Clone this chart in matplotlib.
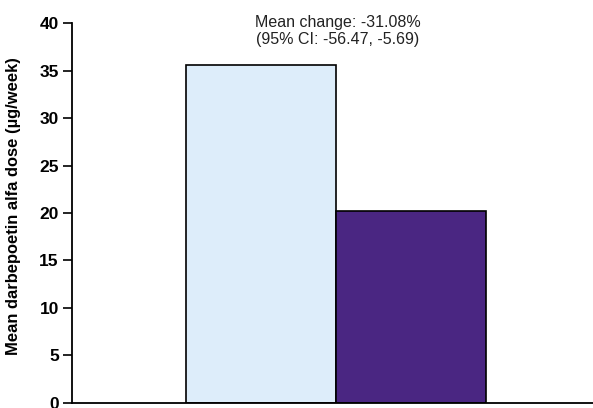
import matplotlib
matplotlib.use("Agg")
import matplotlib.pyplot as plt

groups = ["Before", "After"]
dose = [35.6, 20.2]
colors = ["#ddedfa", "#4a2682"]
yticks = [0, 5, 10, 15, 20, 25, 30, 35, 40]
note = "Mean change: -31.08%\n(95% CI: -56.47, -5.69)"

plt.rcParams["font.family"] = ["Liberation Sans", "DejaVu Sans"]

fig = plt.figure(figsize=(5.93, 4.08), dpi=100)
ax = fig.add_axes([0.1214, 0.0123, 0.8786, 0.9313])

x = range(len(groups))
ax.bar(x, dose, width=1.0, color=colors, edgecolor="black", linewidth=1.2)
ax.set_xlim(-1.26, 2.213)
ax.set_ylim(0, 40)
ax.set_yticks(yticks)
ax.set_yticklabels([str(t) for t in yticks], fontsize=12.5, fontweight="bold")
ax.set_xticks([])
ax.tick_params(axis="y", direction="out", length=6.5, width=1.2, pad=3)
for s in ("top", "right"):
    ax.spines[s].set_visible(False)
for s in ("left", "bottom"):
    ax.spines[s].set_linewidth(1.3)

ax.set_ylabel("Mean darbepoetin alfa dose (\u00b5g/week)", fontsize=11.9, fontweight="bold")
ax.yaxis.set_label_coords(-0.098, 0.517)
ax.text(0.51, 39.2, note, ha="center", va="center", fontsize=11.5, linespacing=1.15,
        color="#222222", clip_on=False)

fig.savefig("out.png", dpi=100)
